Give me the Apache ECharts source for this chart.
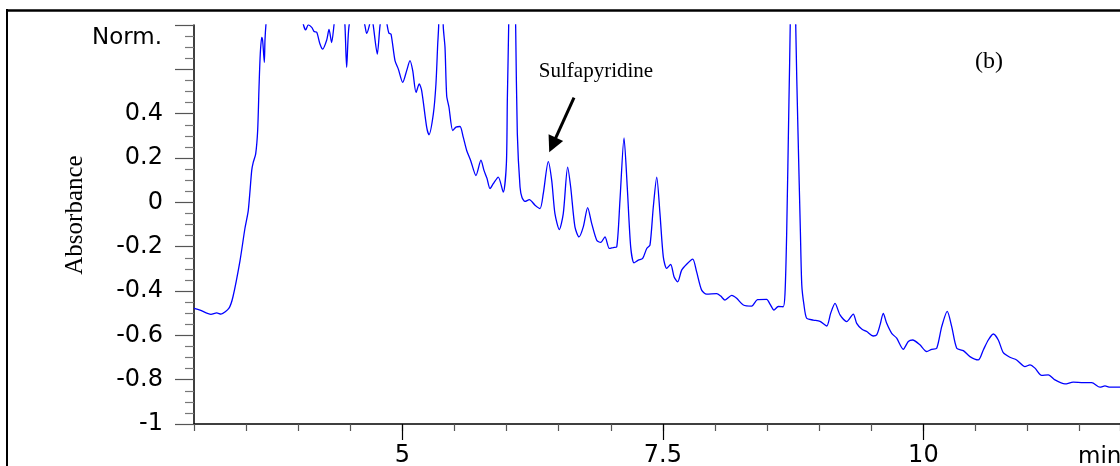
<!DOCTYPE html>
<html><head><meta charset="utf-8">
<script src="https://cdn.jsdelivr.net/npm/echarts@6/dist/echarts.min.js"></script>
<style>html,body{margin:0;padding:0;background:#fff}#c{width:1120px;height:466px}</style>
</head><body><div id="c"></div>
<script>
// Retention time (min)
const time = [3.000,3.058,3.163,3.218,3.259,3.336,3.374,3.441,3.489,3.521,
3.554,3.569,3.592,3.611,3.624,3.636,3.650,3.659,3.675,3.681,
3.691,3.729,3.873,4.017,4.049,4.072,4.097,4.130,4.152,4.178,
4.209,4.235,4.274,4.296,4.321,4.344,4.382,4.430,4.449,4.465,
4.488,4.564,4.641,4.657,4.682,4.703,4.721,4.759,4.785,4.819,
4.855,4.871,4.891,4.929,4.961,5.003,5.041,5.073,5.099,5.131,
5.162,5.185,5.233,5.255,5.297,5.322,5.339,5.348,5.371,5.392,
5.409,5.425,5.447,5.483,5.514,5.553,5.584,5.617,5.655,5.706,
5.754,5.783,5.812,5.841,5.872,5.920,5.968,5.998,6.007,6.020,
6.052,6.087,6.103,6.129,6.148,6.177,6.218,6.273,6.321,6.352,
6.400,6.433,6.464,6.506,6.544,6.586,6.615,6.656,6.695,6.736,
6.778,6.817,6.865,6.903,6.944,6.986,7.024,7.057,7.088,7.127,
7.158,7.191,7.223,7.264,7.306,7.345,7.376,7.408,7.441,7.472,
7.504,7.536,7.575,7.607,7.642,7.680,7.728,7.786,7.824,7.872,
7.920,8.016,8.055,8.096,8.160,8.208,8.272,8.352,8.408,8.496,
8.528,8.566,8.607,8.655,8.672,8.688,8.710,8.722,8.748,8.775,
8.797,8.820,8.833,8.854,8.880,8.943,9.008,9.072,9.110,9.152,
9.200,9.264,9.327,9.360,9.408,9.456,9.519,9.552,9.584,9.615,
9.648,9.696,9.744,9.807,9.855,9.897,9.967,10.032,10.080,10.128,
10.176,10.229,10.272,10.320,10.383,10.447,10.527,10.575,10.623,10.671,
10.719,10.767,10.831,10.895,10.975,11.023,11.071,11.135,11.199,11.263,
11.359,11.438,11.534,11.615,11.695,11.743,11.791,11.887];

// Absorbance (Norm.)
const absorbance = [-0.478,-0.486,-0.505,-0.499,-0.504,-0.477,-0.426,-0.265,-0.117,-0.036,
0.144,0.181,0.219,0.324,0.519,0.669,0.744,0.729,0.631,0.729,
0.805,1.0,1.05,0.9,0.804,0.778,0.801,0.789,0.771,0.767,
0.714,0.691,0.733,0.780,0.721,0.801,0.95,0.9,0.796,0.609,
0.796,0.95,0.796,0.762,0.796,0.85,0.796,0.669,0.796,0.9,
0.796,0.763,0.759,0.639,0.601,0.541,0.594,0.639,0.594,0.496,
0.534,0.504,0.339,0.305,0.399,0.534,0.714,0.796,1.5,0.796,
0.699,0.481,0.429,0.324,0.339,0.342,0.294,0.234,0.189,0.121,
0.190,0.144,0.108,0.062,0.084,0.114,0.046,0.174,0.459,0.796,
2.0,0.796,0.310,0.069,0.022,0.004,0.012,-0.013,-0.028,0.039,
0.184,0.099,-0.051,-0.123,-0.051,0.159,0.069,-0.111,-0.156,-0.111,
-0.024,-0.096,-0.171,-0.181,-0.156,-0.208,-0.204,-0.201,0.009,0.291,
0.069,-0.201,-0.273,-0.261,-0.253,-0.208,-0.193,-0.021,0.114,-0.051,
-0.246,-0.298,-0.280,-0.336,-0.359,-0.306,-0.279,-0.256,-0.314,-0.396,
-0.414,-0.412,-0.423,-0.441,-0.420,-0.433,-0.463,-0.468,-0.439,-0.438,
-0.459,-0.486,-0.470,-0.471,-0.411,-0.139,0.459,0.796,2.0,0.796,
0.310,-0.139,-0.373,-0.463,-0.523,-0.531,-0.537,-0.558,-0.501,-0.456,
-0.508,-0.538,-0.504,-0.546,-0.571,-0.583,-0.603,-0.598,-0.553,-0.501,
-0.546,-0.591,-0.613,-0.663,-0.628,-0.621,-0.643,-0.673,-0.663,-0.658,
-0.561,-0.492,-0.561,-0.658,-0.669,-0.696,-0.711,-0.666,-0.621,-0.594,
-0.621,-0.678,-0.699,-0.711,-0.741,-0.733,-0.748,-0.781,-0.778,-0.801,
-0.819,-0.811,-0.813,-0.813,-0.834,-0.828,-0.834,-0.834];

const xLabelTicks = [5, 7.5, 10];
const yHiddenAbove = 0.5;          // 0.6 and 0.8 ticks carry no label
const peakName = 'Sulfapyridine';
const panelTag = '(b)';
const yAxisTitle = 'Absorbance';
const yUnitText = 'Norm.';
const xUnitText = 'min';
const arrowFrom = [6.647, 0.472];
const arrowTo = [6.441, 0.259];

const chart = echarts.init(document.getElementById('c'), null, {renderer: 'canvas'});
const seriesData = time.map((t, i) => [t, absorbance[i]]);
const sans = 'DejaVu Sans';
const serif = 'Liberation Serif';

chart.setOption({
  animation: false,
  backgroundColor: '#fff',
  grid: {left: 194, right: 0, top: 25, bottom: 42, containLabel: false, outerBoundsMode: 'none'},
  xAxis: [{
    type: 'value', min: 3, max: 11.887, interval: 0.5,
    axisLine: {onZero: false, lineStyle: {color: '#000', width: 1.5}},
    axisTick: {length: 7, lineStyle: {color: '#555', width: 1.2}},
    axisLabel: {show: false},
    splitLine: {show: false}
  }, {
    type: 'value', min: 3, max: 11.887, position: 'bottom',
    axisLine: {show: false, onZero: false},
    axisTick: {show: true, customValues: xLabelTicks, length: 16, lineStyle: {color: '#000', width: 1.2}},
    axisLabel: {customValues: xLabelTicks, fontFamily: sans, fontSize: 24, color: '#000', margin: 20},
    splitLine: {show: false}
  }],
  yAxis: {
    type: 'value', min: -1, max: 0.8, interval: 0.2,
    axisLine: {show: true, onZero: false, lineStyle: {color: '#000', width: 1.5}},
    axisTick: {show: true, length: 19, lineStyle: {color: '#555', width: 1.2}},
    minorTick: {show: true, splitNumber: 4, length: 9, lineStyle: {color: '#777', width: 1.2}},
    axisLabel: {
      margin: 31, fontFamily: sans, fontSize: 24, color: '#000',
      formatter: v => v > yHiddenAbove ? '' : String(Math.round(v * 10) / 10)
    },
    splitLine: {show: false}
  },
  series: [{
    type: 'line', data: seriesData, symbol: 'none', smooth: 0.25, clip: true,
    lineStyle: {color: '#0000ff', width: 1.3},
    markLine: {
      silent: true, symbol: ['none', 'triangle'], symbolSize: 16,
      lineStyle: {color: '#000', width: 3, type: 'solid'},
      label: {show: false},
      data: [[{coord: arrowFrom}, {coord: arrowTo}]]
    }
  }],
  graphic: [
    {type: 'line', shape: {x1: 6, y1: 10.5, x2: 1120, y2: 10.5}, style: {stroke: '#000', lineWidth: 2.5}},
    {type: 'line', shape: {x1: 7, y1: 9, x2: 7, y2: 466}, style: {stroke: '#000', lineWidth: 2}},
    {type: 'text', x: 162, y: 38, style: {text: yUnitText, fontFamily: sans, fontSize: 23, fill: '#000', align: 'right', verticalAlign: 'middle'}},
    {type: 'text', x: 1078, y: 457, style: {text: xUnitText, fontFamily: sans, fontSize: 23, fill: '#000', align: 'left', verticalAlign: 'middle'}},
    {type: 'text', x: 75, y: 215, rotation: Math.PI / 2, style: {text: yAxisTitle, fontFamily: serif, fontSize: 25, fill: '#000', align: 'center', verticalAlign: 'middle'}},
    {type: 'text', x: 596, y: 71, style: {text: peakName, fontFamily: serif, fontSize: 21, fill: '#000', align: 'center', verticalAlign: 'middle'}},
    {type: 'text', x: 989, y: 62, style: {text: panelTag, fontFamily: serif, fontSize: 24, fill: '#000', align: 'center', verticalAlign: 'middle'}}
  ]
});
</script>
</body></html>
